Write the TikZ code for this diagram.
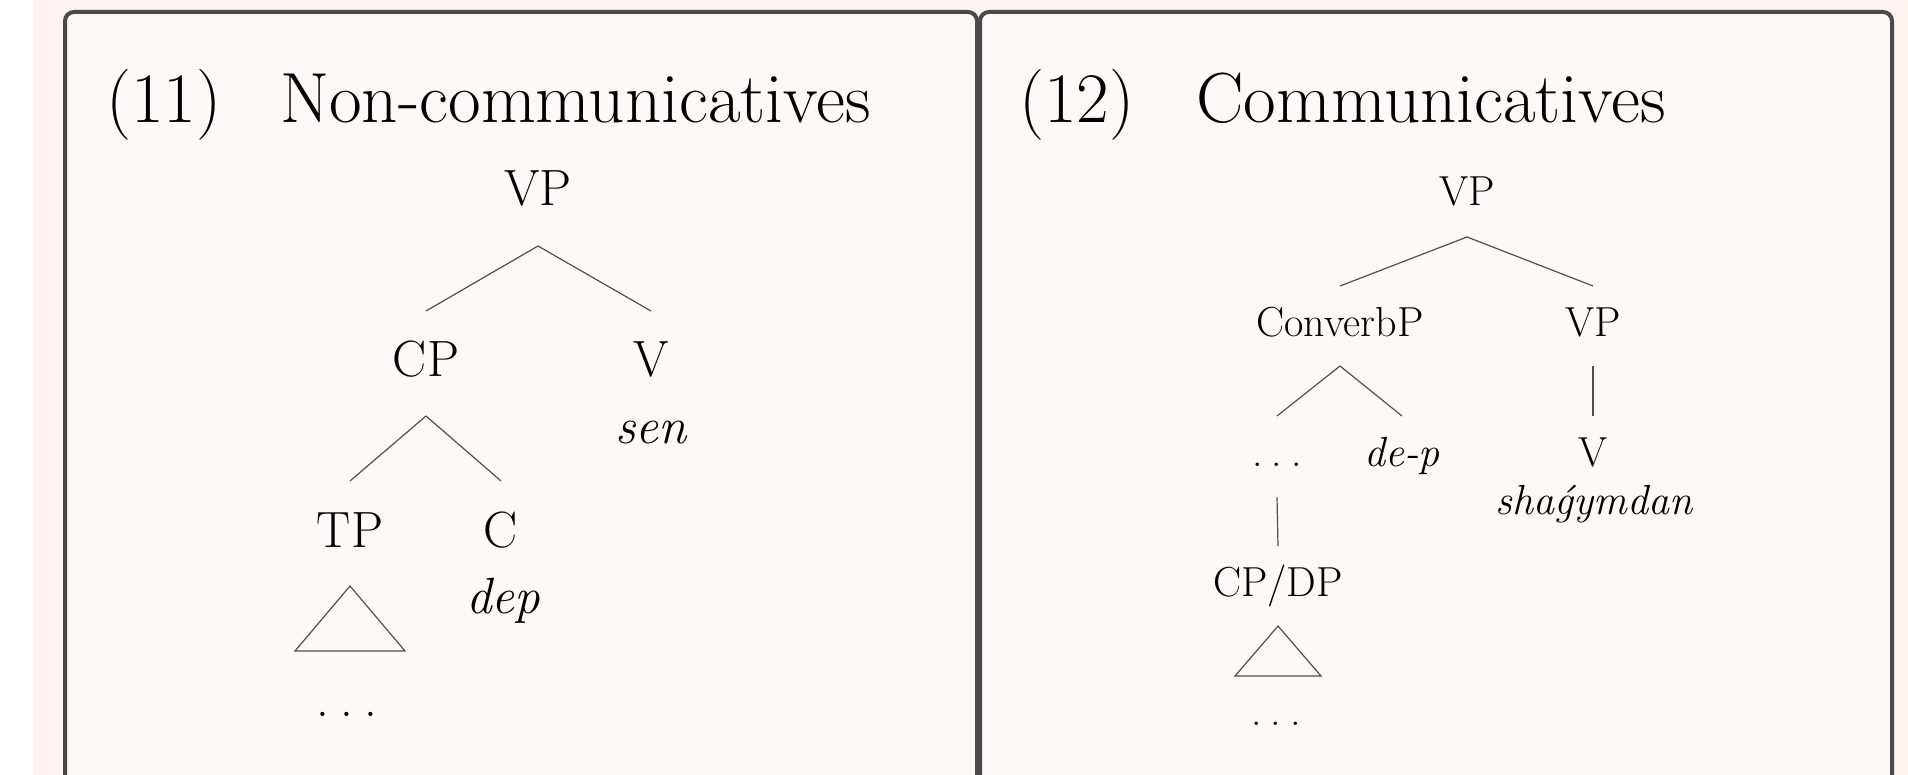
\documentclass[tikz,border=0pt]{standalone}
\usetikzlibrary{calc}
\definecolor{pagepink}{HTML}{FEF3F1}
\definecolor{boxfill}{HTML}{FDF9F8}
\definecolor{boxline}{HTML}{4A4A4A}
\definecolor{treeline}{HTML}{505050}
\newcommand{\tdots}{.\kern.22em.\kern.22em.}
\begin{document}
\begin{tikzpicture}[x=1pt,y=-1pt,
  title/.style={anchor=base west, inner sep=0pt, font=\fontsize{71}{85}\selectfont},
  tA/.style={anchor=base, inner sep=0pt, font=\fontsize{51}{61}\selectfont},
  tB/.style={anchor=base, inner sep=0pt, font=\fontsize{42}{50}\selectfont},
  branch/.style={draw=treeline, line width=1.2pt},
  panel/.style={draw=boxline, line width=4pt, fill=boxfill, rounded corners=9pt}]
\useasboundingbox (0,0) rectangle (1908,775);
\clip (0,0) rectangle (1908,775);
\fill[white] (0,0) rectangle (1908,775);
\fill[pagepink] (33,0) rectangle (1908,775);
\draw[panel] (65,12) rectangle (977,840);
\draw[panel] (980,12) rectangle (1892,840);

% titles
\node[title] (n11) at (106,123) {(11)};
\node[title] (t11) at (280,123) {Non-communicatives};
\node[title] (n12) at (1019,123) {(12)};
\node[title] (t12) at (1196,123) {Communicatives};

% tree (11)
\node[tA] (A-VP) at (538,206) {VP};
\node[tA] (A-CP) at (426,377) {CP};
\node[tA] (A-V) at (651,377) {V};
\node[tA] (A-sen) at (651,443) {\itshape sen};
\node[tA] (A-TP) at (350,547) {TP};
\node[tA] (A-C) at (501,547) {C};
\node[tA] (A-dep) at (503,613) {\itshape dep};
\node[tA] (A-dots) at (347,716) {\tdots};

\draw[branch] ($(A-VP.base)+(0,40)$) -- ($(A-CP.base)+(0,-66)$);
\draw[branch] ($(A-VP.base)+(0,40)$) -- ($(A-V.base)+(0,-66)$);
\draw[branch] ($(A-CP.base)+(0,39)$) -- ($(A-TP.base)+(0,-66)$);
\draw[branch] ($(A-CP.base)+(0,39)$) -- ($(A-C.base)+(0,-66)$);
\draw[branch] ($(A-TP.base)+(0,39)$) -- ($(A-TP.base)+(-55,104)$) -- ($(A-TP.base)+(55,104)$) -- cycle;

% tree (12)
\node[tB] (B-VP) at (1467,206) {VP};
\node[tB] (B-Conv) at (1340,337) {ConverbP};
\node[tB] (B-VP2) at (1593,337) {VP};
\node[tB] (B-dots1) at (1277,466) {\tdots};
\node[tB] (B-dep) at (1402,466) {\itshape de-p};
\node[tB] (B-V) at (1593,466) {V};
\node[tB] (B-shag) at (1594,514) {\itshape shaǵymdan};
\node[tB] (B-CPDP) at (1278,596) {CP/DP};
\node[tB] (B-dots2) at (1276,725) {\tdots};

\draw[branch] ($(B-VP.base)+(0,31)$) -- ($(B-Conv.base)+(0,-51)$);
\draw[branch] ($(B-VP.base)+(0,31)$) -- ($(B-VP2.base)+(0,-51)$);
\draw[branch] ($(B-Conv.base)+(0,29)$) -- ($(B-dots1.base)+(0,-50)$);
\draw[branch] ($(B-Conv.base)+(0,29)$) -- ($(B-dep.base)+(0,-50)$);
\draw[branch] ($(B-VP2.base)+(0,29)$) -- ($(B-V.base)+(0,-50)$);
\draw[branch] ($(B-dots1.base)+(0,31)$) -- ($(B-CPDP.base)+(0,-50)$);
\draw[branch] ($(B-CPDP.base)+(0,30)$) -- ($(B-CPDP.base)+(-43,80)$) -- ($(B-CPDP.base)+(43,80)$) -- cycle;
\end{tikzpicture}
\end{document}
